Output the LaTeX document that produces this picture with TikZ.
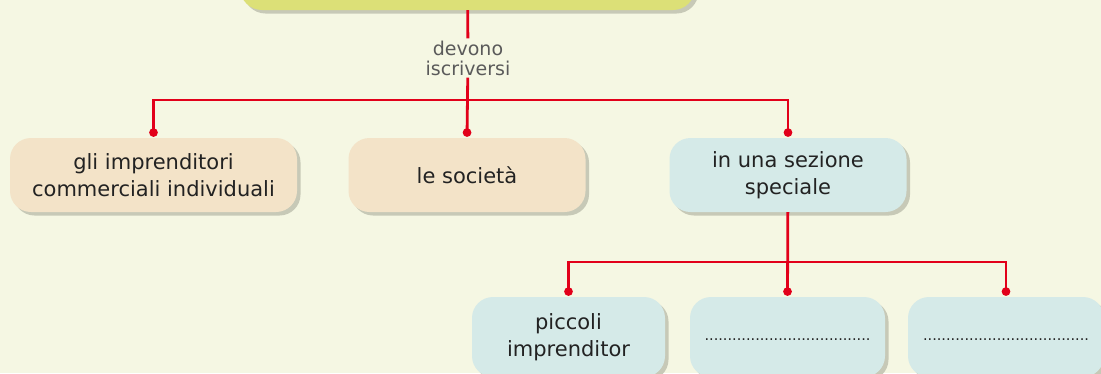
\documentclass[tikz,border=0pt]{standalone}
\usepackage{fontspec}
\setmainfont{DejaVu Sans}
\usetikzlibrary{arrows.meta,shadows,positioning}
\definecolor{bgcream}{HTML}{F5F7E3}
\definecolor{toplime}{HTML}{DCE077}
\definecolor{boxtan}{HTML}{F3E3C8}
\definecolor{boxblue}{HTML}{D5EAE8}
\definecolor{shade}{HTML}{C7C9B7}
\definecolor{linkred}{HTML}{E2001A}
\definecolor{inkgray}{HTML}{222222}
\definecolor{softgray}{HTML}{5A5A5A}
\tikzset{%
  mapbox/.style  = {shape=rectangle, rounded corners=21pt, align=center,%
                    text=inkgray, font=\fontsize{21}{27}\selectfont,%
                    drop shadow={shadow xshift=3.5pt, shadow yshift=-3.5pt,%
                                 fill=shade, opacity=1}},%
  subjbox/.style = {mapbox, fill=boxtan, minimum height=74pt},%
  sezbox/.style  = {mapbox, fill=boxblue},%
  wire/.style    = {draw=linkred, line width=2.8pt},%
  link/.style    = {wire, -{Circle[length=8.5pt]}}%
}
\newcommand{\dotline}{\vphantom{Ag}....................................}

\begin{document}
\begin{tikzpicture}[x=1pt,y=-1pt]
	\useasboundingbox (0,0) rectangle (1101,373);
	\clip (0,0) rectangle (1101,373);
	\fill[bgcream] (0,0) rectangle (1101,373);
	% top concept, only its lower edge shows
	\node (top) at (467.5,-25) [mapbox, fill=toplime, minimum width=455pt,%
		minimum height=70pt, rounded corners=22pt] {};
	\node (lbl) at (468,58) [align=center, inner sep=2pt, text=softgray,%
		font=\fontsize{19}{20}\selectfont] {devono\\iscriversi};
	% first row
	\node (imp) at (153.5,175) [subjbox, minimum width=287pt]%
		{gli imprenditori\\commerciali individuali};
	\node (soc) at (467,175) [subjbox, minimum width=237pt] {le società};
	\node (sez) at (788,175) [sezbox, minimum width=237pt, minimum height=74pt]%
		{in una sezione\\speciale};
	% second row
	\node (pic) at (568.5,337) [sezbox, minimum width=193pt, minimum height=80pt]%
		{piccoli\\imprenditor};
	\node (blA) at (787.5,337) [sezbox, minimum width=195pt, minimum height=80pt]%
		{\fontsize{14.5}{16}\selectfont\raisebox{-4pt}{\dotline}};
	\node (blB) at (1006,337) [sezbox, minimum width=196pt, minimum height=80pt]%
		{\fontsize{14.5}{16}\selectfont\raisebox{-4pt}{\dotline}};
	% connectors
	\coordinate (fork) at (468,100);
	\coordinate (fork2) at (788,262);
	\draw[wire] (top) -- (lbl);
	\draw[link] (lbl) -- ([yshift=1pt]soc.north);
	\draw[link] (fork) -| ([yshift=1pt]imp.north);
	\draw[link] (fork) -| ([yshift=1pt]sez.north);
	\draw[link] (sez) -- ([yshift=1pt]blA.north);
	\draw[link] (fork2) -| ([yshift=1pt]pic.north);
	\draw[link] (fork2) -| ([yshift=1pt]blB.north);
\end{tikzpicture}
\end{document}
